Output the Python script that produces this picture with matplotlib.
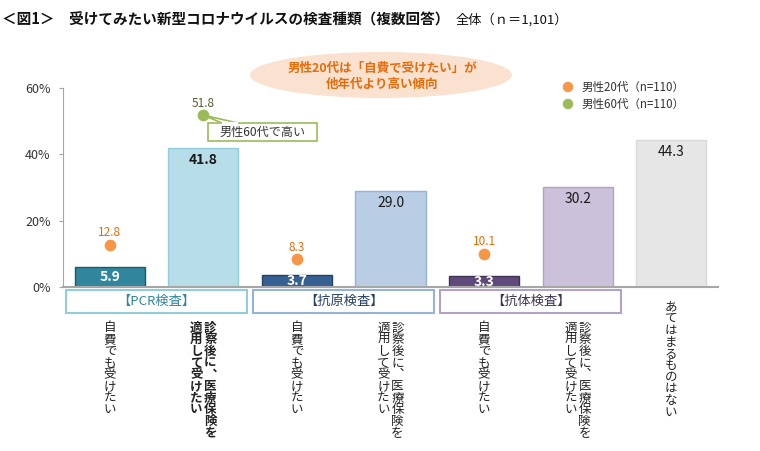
import matplotlib.pyplot as plt
from matplotlib.patches import Ellipse, Rectangle, Polygon, Circle
from matplotlib.lines import Line2D

plt.rcParams['font.family'] = ['Noto Sans CJK JP', 'DejaVu Sans']

# data
totals = [5.9, 41.8, 3.7, 29.0, 3.3, 30.2, 44.3]
male20 = {0: 12.8, 2: 8.3, 4: 10.1}
male60 = {1: 51.8}
bar_colors = ['#31859C', '#B7DEE8', '#366092', '#B9CDE5', '#604A7B', '#CCC1DA', '#E6E6E6']
bar_edges = ['#215967', '#92CDDC', '#244062', '#95B3D7', '#3F3151', '#B2A2C7', '#D9D9D9']
label_colors = ['white', '#1a1a1a', 'white', '#1a1a1a', 'white', '#1a1a1a', '#1a1a1a']
label_bold = [True, True, True, False, True, False, False]
groups = [('【PCR検査】', 0, 1, '#92CDDC', '#31859C'),
          ('【抗原検査】', 2, 3, '#95B3D7', '#244062'),
          ('【抗体検査】', 4, 5, '#B2A2C7', '#3F3151')]
cat_cols = [['自費でも受けたい'],
            ['診察後に︑医療保険を', '適用して受けたい'],
            ['自費でも受けたい'],
            ['診察後に︑医療保険を', '適用して受けたい'],
            ['自費でも受けたい'],
            ['診察後に︑医療保険を', '適用して受けたい'],
            ['あてはまるものはない']]

W, H = 760, 451
fig = plt.figure(figsize=(W / 100, H / 100), dpi=100)
L, R, T, B = 63, 718, 88, 287
ax = fig.add_axes([L / W, 1 - B / H, (R - L) / W, (B - T) / H])
x = range(len(totals))
ax.bar(x, totals, width=0.75, color=bar_colors, edgecolor=bar_edges, linewidth=1, zorder=2)
for i, v in enumerate(totals):
    if v < 8:
        y = v / 2
        va = 'center'
    else:
        y = v - 1.5
        va = 'top'
    ax.text(i, y, f'{v:.1f}', ha='center', va=va, fontsize=10, color=label_colors[i],
            fontweight='bold' if label_bold[i] else 'normal', zorder=4)

ax.scatter(list(male20.keys()), list(male20.values()), s=55, color='#F79646', zorder=5)
ax.scatter(list(male60.keys()), list(male60.values()), s=55, color='#9BBB59', zorder=5)
for k, v in male20.items():
    ax.text(k, v + 1.6, f'{v:.1f}', ha='center', va='bottom', fontsize=8.5, color='#E46C0A')
for k, v in male60.items():
    ax.text(k, v + 1.6, f'{v:.1f}', ha='center', va='bottom', fontsize=8.5, color='#4F6228')

ax.set_xlim(-0.5, 6.5)
ax.set_ylim(0, 60)
ax.set_yticks([0, 20, 40, 60])
ax.set_yticklabels(['0%', '20%', '40%', '60%'], fontsize=9, color='#333333')
ax.set_xticks([])
for s in ['top', 'right']:
    ax.spines[s].set_visible(False)
ax.spines['left'].set_color('#A6A6A6')
ax.spines['bottom'].set_color('#A6A6A6')
ax.spines['bottom'].set_linewidth(1.5)
ax.tick_params(axis='y', length=3, color='#A6A6A6', pad=6)
ax.set_facecolor('none')

# overlay in pixel coords
ov = fig.add_axes([0, 0, 1, 1], zorder=-1)
ov.set_xlim(0, W)
ov.set_ylim(H, 0)
ov.axis('off')
ov2 = fig.add_axes([0, 0, 1, 1], zorder=10)
ov2.set_xlim(0, W)
ov2.set_ylim(H, 0)
ov2.axis('off')

ov2.text(2, 20, '＜図1＞　受けてみたい新型コロナウイルスの検査種類（複数回答）',
         fontsize=10.5, fontweight='bold', va='center', ha='left', color='#111111')
ov2.text(456, 20, '全体（ｎ＝1,101）', fontsize=9.5, va='center', ha='left', color='#111111')

ov.add_patch(Ellipse((381, 75), 262, 46, facecolor='#FBE1CF', edgecolor='none'))
ov2.text(382, 68, '男性20代は「自費で受けたい」が', fontsize=9, fontweight='bold',
         color='#E46C0A', ha='center', va='center')
ov2.text(382, 84, '他年代より高い傾向', fontsize=9, fontweight='bold',
         color='#E46C0A', ha='center', va='center')

# legend
ov2.add_patch(Circle((568, 87), 4.5, color='#F79646'))
ov2.add_patch(Circle((568, 104), 4.5, color='#9BBB59'))
ov2.text(582, 87, '男性20代（n=110）', fontsize=8.3, va='center', color='#333333')
ov2.text(582, 104, '男性60代（n=110）', fontsize=8.3, va='center', color='#333333')

# callout
px = L + 1.5 * (R - L) / 7
py = B - male60[1] / 60 * (B - T)
ov2.add_patch(Polygon([(px, py), (222, 123), (238, 123)], closed=True,
                      facecolor='white', edgecolor='#9BBB59', linewidth=1.2, zorder=3))
ov2.add_patch(Rectangle((208, 123), 109, 18, facecolor='white', edgecolor='#9BBB59',
                        linewidth=1.2, zorder=4))
ov2.add_line(Line2D([223, 237], [123, 123], color='white', linewidth=1.6, zorder=5))
ov2.text(262.5, 132, '男性60代で高い', fontsize=8.7, ha='center', va='center',
         color='#333333', zorder=6)

# group boxes
step = (R - L) / 7
for name, a, b, ec, tc in groups:
    x0 = L + a * step + 3
    x1 = L + (b + 1) * step - 3
    ov2.add_patch(Rectangle((x0, 290), x1 - x0, 23, facecolor='white', edgecolor=ec, linewidth=1.5))
    ov2.text((x0 + x1) / 2, 301.5, name, fontsize=9.5, ha='center', va='center', color=tc)

# vertical category labels
for i, cols in enumerate(cat_cols):
    cx = L + (i + 0.5) * step
    y0 = 307 if i == 6 else 328
    n = len(cols)
    for j, col in enumerate(cols):
        xx = cx + (n - 1) * 7 - j * 14
        for k, ch in enumerate(col):
            ov2.text(xx, y0 + k * 11.7, ch, fontsize=9, ha='center', va='center',
                     color='#222222', fontweight='bold' if i == 1 else 'normal')

fig.savefig('out.png', dpi=100)
